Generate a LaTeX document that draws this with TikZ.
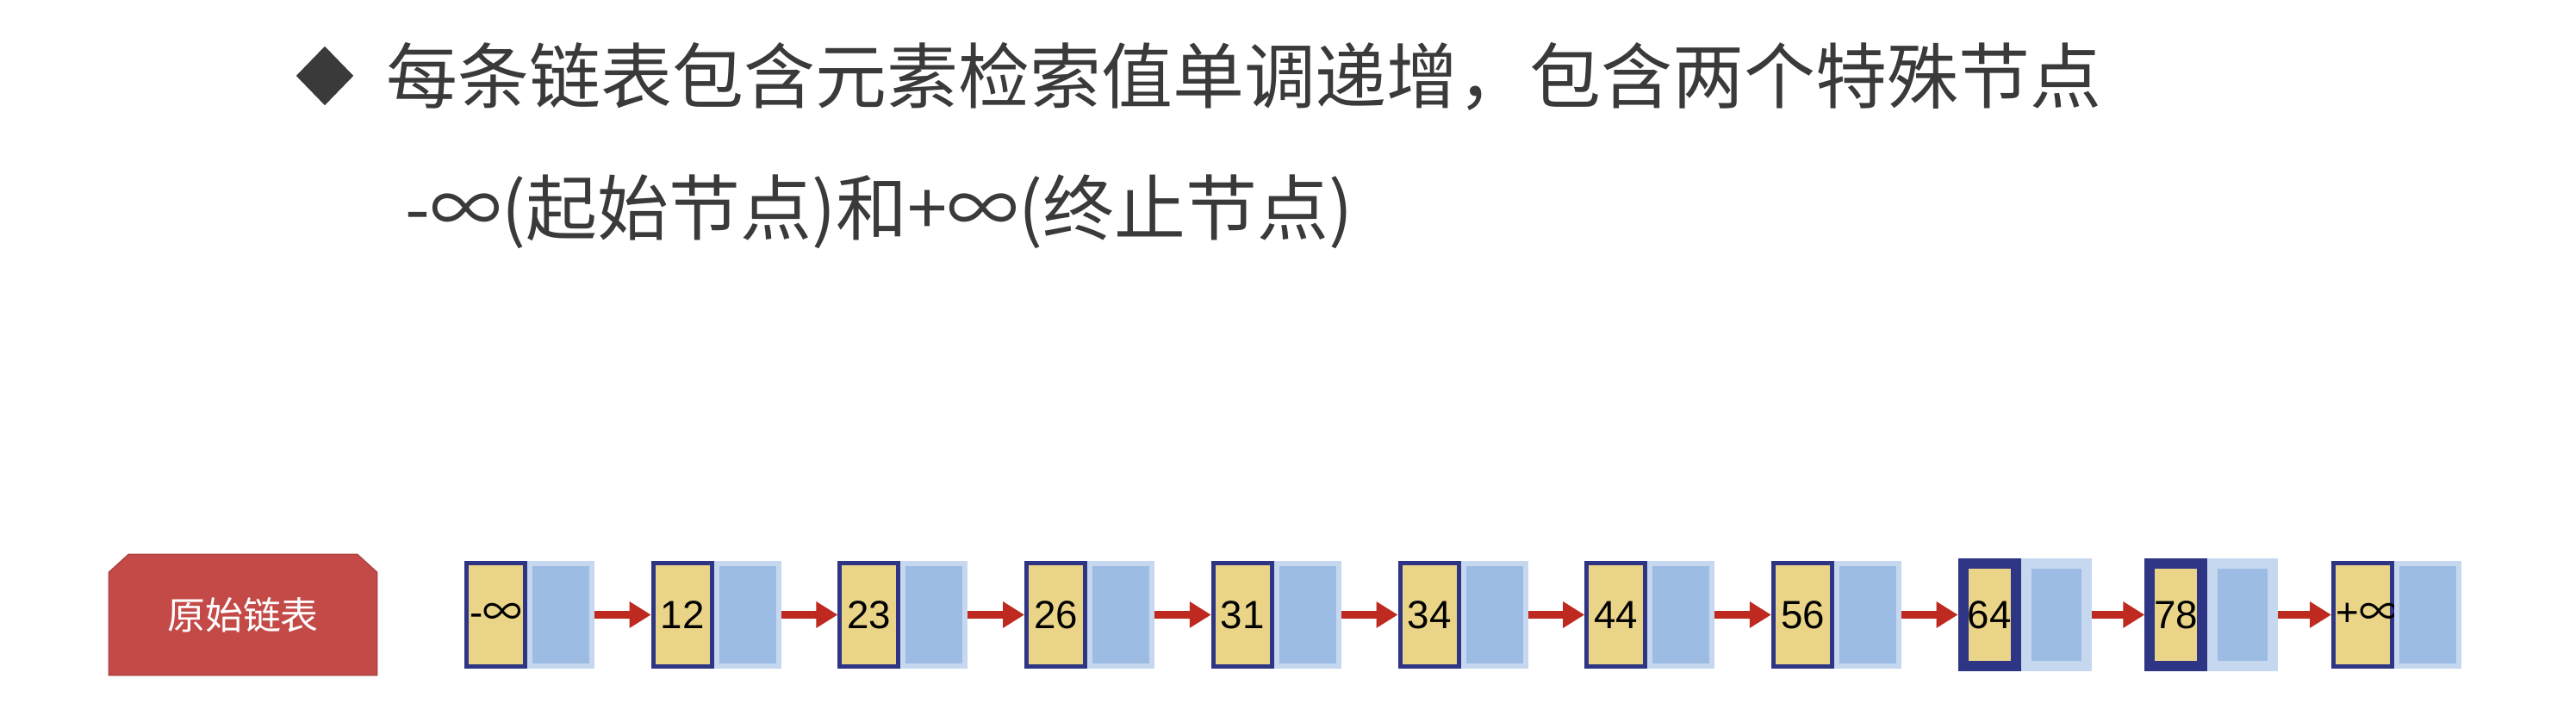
\documentclass[tikz,border=0pt]{standalone}
\usepackage{fontspec}
\setmainfont{Noto Sans CJK SC}
\newfontfamily\numfont{Liberation Sans}
\usetikzlibrary{positioning,calc,arrows.meta,shapes.geometric,backgrounds}
\definecolor{txtgray}{HTML}{3A3A3A}
\definecolor{valyellow}{HTML}{E9D488}
\definecolor{valnavy}{HTML}{2F3585}
\definecolor{ptrblue}{HTML}{9DBCE3}
\definecolor{ptrlight}{HTML}{C6D8EF}
\definecolor{tagred}{HTML}{C44A48}
\definecolor{arrred}{HTML}{BE2A1F}
\tikzset{
  headline/.style  = {text=txtgray, inner sep=0pt, font=\fontsize{23.6}{28}\selectfont},
  bullet/.style    = {diamond, fill=txtgray, inner sep=0pt, minimum width=0.67cm,
                      minimum height=0.69cm},
  tag/.style       = {inner sep=0pt, minimum width=3.10cm, minimum height=1.39cm,
                      text=white, font=\fontsize{12.5}{15}\selectfont},
  valbox/.style    = {draw=valnavy, fill=valyellow, line width=0.05cm, inner sep=0pt,
                      minimum width=0.68cm, minimum height=1.20cm, text width=0.62cm,
                      align=center, font=\numfont\fontsize{13}{14}\selectfont},
  hlvalbox/.style  = {valbox, line width=0.12cm, minimum width=0.61cm,
                      minimum height=1.19cm, text width=0.55cm},
  ptrbox/.style    = {draw=ptrlight, fill=ptrblue, line width=0.06cm, inner sep=0pt,
                      minimum width=0.72cm, minimum height=1.19cm},
  hlptrbox/.style  = {ptrbox, line width=0.12cm, minimum width=0.70cm,
                      minimum height=1.19cm},
  nextarrow/.style = {draw=arrred, line width=0.095cm,
                      -{Triangle[length=0.25cm,width=0.29cm]}},
}

\begin{document}
\begin{tikzpicture}
  \useasboundingbox (0,0) rectangle (29.9,8.24);
  % heading
  \node[bullet] (bul) at (3.77,7.36) {};
  \node[headline, anchor=west] (line1) at (4.48,7.355)
    {每条链表包含元素检索值单调递增，包含两个特殊节点};
  \node[headline, anchor=west] (line2) at (4.70,5.78)
    {-∞(起始节点)和+∞(终止节点)};
  % original list
  \node[tag] (orig) at (2.82,1.105) {原始链表};
  \begin{scope}[on background layer]
    \fill[white] (0,0) rectangle (29.9,8.24);
    \filldraw[fill=tagred, draw=tagred!88!black, line width=0.4pt]
      (orig.south west) -- ($(orig.north west)+(0,-0.21)$)
      -- ($(orig.north west)+(0.23,0)$) -- ($(orig.north east)+(-0.23,0)$)
      -- ($(orig.north east)+(0,-0.21)$) -- (orig.south east) -- cycle;
  \end{scope}
  \foreach \val/\vsty/\psty [count=\i from 0] in
    {{-\rmfamily ∞}/valbox/ptrbox, 12/valbox/ptrbox, 23/valbox/ptrbox,
     26/valbox/ptrbox, 31/valbox/ptrbox, 34/valbox/ptrbox, 44/valbox/ptrbox,
     56/valbox/ptrbox, 64/hlvalbox/hlptrbox, 78/hlvalbox/hlptrbox,
     {+\rmfamily ∞}/valbox/ptrbox}{
    \node[\vsty] (v\i) at ({5.755+2.167*\i},1.105) {\val};
    \node[\psty, right=0pt of v\i] (p\i) {};
  }
  \foreach \i [evaluate=\i as \j using int(\i+1)] in {0,...,9}
    \draw[nextarrow] (p\i.east) -- (v\j.west);
\end{tikzpicture}
\end{document}
